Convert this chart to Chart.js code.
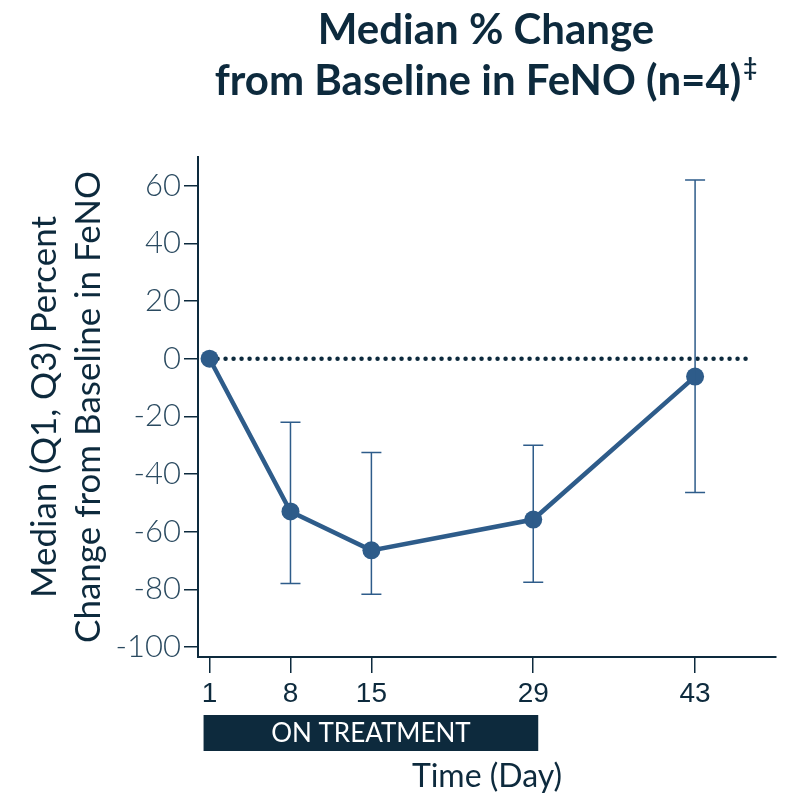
<!DOCTYPE html>
<html>
<head>
<meta charset="utf-8">
<script src="https://cdn.jsdelivr.net/npm/chart.js@4"></script>
<style>
  html, body { margin: 0; padding: 0; background: #fff; }
  #wrap { width: 790px; height: 798px; }
</style>
</head>
<body>
<div id="wrap"><canvas id="chart" width="790" height="798"></canvas></div>
<script>
// Data
const days = [1, 8, 15, 29, 43];
const medianChange = [0, -53, -66.5, -55.8, -6.2];
const q1Change = [null, -78, -81.7, -77.6, -46.4];
const q3Change = [null, -22, -32.5, -30, 62];
const yTicks = [-100, -80, -60, -40, -20, 0, 20, 40, 60];
const baselineRange = [1, 48];

const navy = '#0d2a3d';
const blue = '#2e5c8a';

// error bars (Q1..Q3) drawn through the scales
const errorBars = {
  id: 'errorBars',
  afterDatasetsDraw(chart) {
    const ctx = chart.ctx;
    const xs = chart.scales.x, ys = chart.scales.y;
    ctx.save();
    ctx.strokeStyle = blue;
    ctx.lineWidth = 1.5;
    days.forEach((d, i) => {
      if (q1Change[i] == null) return;
      const x = xs.getPixelForValue(d);
      const yLo = ys.getPixelForValue(q1Change[i]);
      const yHi = ys.getPixelForValue(q3Change[i]);
      ctx.beginPath();
      ctx.moveTo(x, yLo); ctx.lineTo(x, yHi);
      ctx.moveTo(x - 10, yLo); ctx.lineTo(x + 10, yLo);
      ctx.moveTo(x - 10, yHi); ctx.lineTo(x + 10, yHi);
      ctx.stroke();
    });
    ctx.restore();
  }
};

// title and the "on treatment" band
const extras = {
  id: 'extras',
  afterDraw(chart) {
    const ctx = chart.ctx;
    const xs = chart.scales.x;
    ctx.save();
    ctx.fillStyle = navy;
    ctx.textAlign = 'center';
    ctx.textBaseline = 'alphabetic';
    ctx.font = 'bold 42px Lato';
    ctx.fillText('Median % Change', 486, 44);
    const line2 = 'from Baseline in FeNO (n=4)';
    const w = ctx.measureText(line2).width;
    const cx = 478;
    ctx.fillText(line2, cx, 95);
    ctx.textAlign = 'left';
    ctx.font = 'bold 24px Lato';
    ctx.fillText('‡', cx + w / 2 + 2, 76);

    // band from day 1 to day 29
    const x0 = xs.getPixelForValue(days[0]) - 6;
    const x1 = xs.getPixelForValue(days[3]) + 5;
    ctx.fillStyle = navy;
    ctx.fillRect(x0, 715, x1 - x0, 36);
    ctx.fillStyle = '#ffffff';
    ctx.textAlign = 'center';
    ctx.textBaseline = 'middle';
    ctx.font = '26px Lato';
    ctx.fillText('ON TREATMENT', (x0 + x1) / 2, 734);
    ctx.restore();
  }
};

new Chart(document.getElementById('chart'), {
  type: 'line',
  data: {
    datasets: [
      {
        label: 'Baseline',
        data: baselineRange.map(d => ({ x: d, y: 0 })),
        borderColor: navy,
        borderWidth: 4.5,
        borderDash: [0, 8],
        borderCapStyle: 'round',
        pointRadius: 0,
        order: 2
      },
      {
        label: 'Median',
        data: days.map((d, i) => ({ x: d, y: medianChange[i] })),
        borderColor: blue,
        backgroundColor: blue,
        borderWidth: 4.5,
        pointRadius: 9,
        pointHoverRadius: 9,
        pointBorderWidth: 0,
        order: 1
      }
    ]
  },
  plugins: [errorBars, extras],
  options: {
    responsive: false,
    animation: false,
    layout: { padding: { top: 157, right: 14, left: 0, bottom: 0 } },
    plugins: {
      legend: { display: false },
      tooltip: { enabled: false }
    },
    scales: {
      x: {
        type: 'linear',
        min: 0,
        max: 50,
        afterBuildTicks: axis => { axis.ticks = days.map(v => ({ value: v })); },
        afterFit: axis => { axis.height = 141; },
        grid: { drawOnChartArea: false, drawTicks: true, tickLength: 16, color: navy, lineWidth: 1.5 },
        border: { display: true, color: navy, width: 2 },
        ticks: { color: navy, font: { family: 'Liberation Sans', size: 28 }, padding: 4, maxRotation: 0 },
        title: { display: true, text: 'Time (Day)', color: navy, font: { family: 'Lato', size: 32 }, padding: { top: 0, bottom: 2 } }
      },
      y: {
        min: -103.5,
        max: 70,
        afterBuildTicks: axis => { axis.ticks = yTicks.map(v => ({ value: v })); },
        afterFit: axis => { axis.width = 198; },
        grid: { drawOnChartArea: false, drawTicks: true, tickLength: 14, color: navy, lineWidth: 1.5 },
        border: { display: true, color: navy, width: 2 },
        ticks: { color: '#2a4a60', font: { family: 'Lato', size: 31, weight: 300 }, padding: 3 },
        title: {
          display: true,
          text: ['Median (Q1, Q3) Percent', 'Change from Baseline in FeNO'],
          color: navy,
          font: { family: 'Lato', size: 35, lineHeight: 1.27 },
          padding: { top: 22, bottom: 0 }
        }
      }
    }
  }
});
</script>
</body>
</html>
